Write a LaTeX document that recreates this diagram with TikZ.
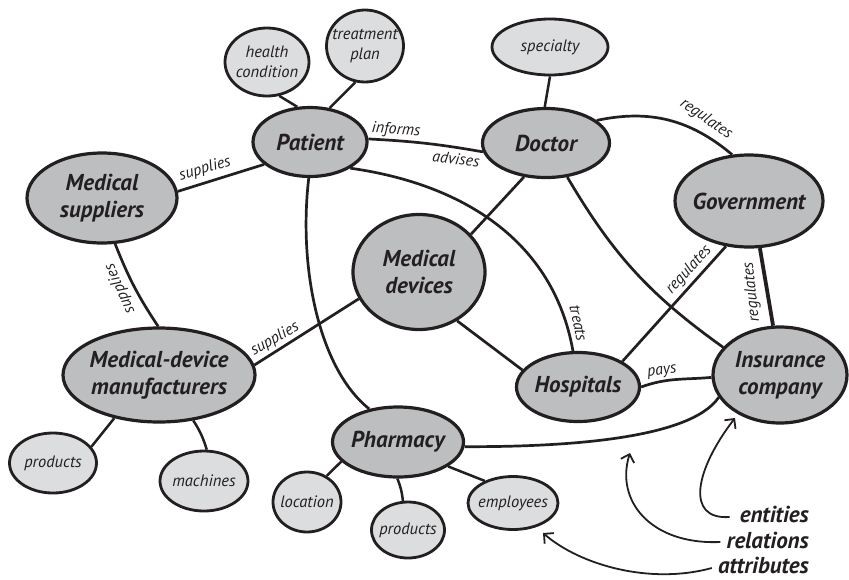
\documentclass[tikz,border=0pt]{standalone}
\usepackage{fontspec}
\setmainfont{PT Sans}
\usetikzlibrary{shapes.geometric,arrows.meta,backgrounds}
\definecolor{entfill}{HTML}{BCBEC0}
\definecolor{attfill}{HTML}{DCDDDE}
\definecolor{ink}{HTML}{231F20}
\begin{document}
\begin{tikzpicture}[x=1pt,y=1pt,
  ent/.style={ellipse, draw=ink, line width=3.2pt, fill=entfill, inner sep=0pt},
  att/.style={ellipse, draw=ink, line width=2.8pt, fill=attfill, inner sep=0pt},
  etxt/.style={text=ink, font=\fontsize{23}{27}\selectfont\bfseries\itshape, align=center, inner sep=0pt},
  atxt/.style={text=ink, font=\fontsize{16.5}{20}\selectfont\itshape, align=center, inner sep=0pt},
  rtxt/.style={text=ink, font=\fontsize{16}{18}\selectfont\itshape, inner sep=1pt},
  ltxt/.style={text=ink, font=\fontsize{23}{27}\selectfont\bfseries\itshape, inner sep=0pt, anchor=east},
  con/.style={draw=ink, line width=2.7pt},
  acon/.style={draw=ink, line width=2.5pt},
  legarrow/.style={draw=ink, line width=1.8pt, -{Straight Barb[length=7pt,width=14pt]}},
]
\useasboundingbox (0,0) rectangle (849,-579);

% entities
\node[ent, minimum width=114pt, minimum height=69pt] (pat) at (310,-142) {};
\node[etxt] (patT) at (pat) {Patient};
\node[ent, minimum width=127pt, minimum height=69pt] (doc) at (546,-143) {};
\node[etxt] (docT) at (doc) {Doctor};
\node[ent, minimum width=150pt, minimum height=90pt] (medsup) at (102,-198) {};
\node[etxt] (medsupT) at (medsup) {Medical\\suppliers};
\node[ent, minimum width=148pt, minimum height=92pt] (gov) at (749,-201) {};
\node[etxt] (govT) at (gov) {Government};
\node[ent, minimum width=132pt, minimum height=115pt] (md) at (419,-272) {};
\node[etxt] (mdT) at (md) {Medical\\devices};
\node[ent, minimum width=192pt, minimum height=94pt] (manuf) at (159,-375) {};
\node[etxt] (manufT) at (manuf) {Medical-device\\manufacturers};
\node[ent, minimum width=123pt, minimum height=69pt] (hosp) at (578,-387) {};
\node[etxt] (hospT) at (hosp) {Hospitals};
\node[ent, minimum width=134pt, minimum height=96pt] (ins) at (780,-375) {};
\node[etxt] (insT) at (ins) {Insurance\\company};
\node[ent, minimum width=131pt, minimum height=70pt] (pharm) at (398,-442) {};
\node[etxt] (pharmT) at (pharm) {Pharmacy};

% attributes
\node[att, minimum width=84pt, minimum height=68pt] (health) at (267,-62) {};
\node[atxt] (healthT) at (health) {health\\condition};
\node[att, minimum width=77pt, minimum height=72pt] (treat) at (365,-46) {};
\node[atxt] (treatT) at (treat) {treatment\\plan};
\node[att, minimum width=116pt, minimum height=56pt] (spec) at (550,-47) {};
\node[atxt] (specT) at (spec) {specialty};
\node[att, minimum width=87pt, minimum height=60pt] (prodA) at (53,-463) {};
\node[atxt] (prodAT) at (prodA) {products};
\node[att, minimum width=88pt, minimum height=60pt] (mach) at (204,-481) {};
\node[atxt] (machT) at (mach) {machines};
\node[att, minimum width=68pt, minimum height=60pt] (loc) at (307,-502) {};
\node[atxt] (locT) at (loc) {location};
\node[att, minimum width=73pt, minimum height=56pt] (prodB) at (408,-530) {};
\node[atxt] (prodBT) at (prodB) {products};
\node[att, minimum width=90pt, minimum height=53pt] (empl) at (513,-503) {};
\node[atxt] (emplT) at (empl) {employees};

% relation labels
\node[rtxt, rotate=-4] (lInf) at (396,-130) {informs};
\node[rtxt, rotate=-7] (lAdv) at (456,-159) {advises};
\node[rtxt, rotate=16] (lSup1) at (205,-169) {supplies};
\node[rtxt, rotate=114] (lSup2) at (120,-289) {supplies};
\node[rtxt, rotate=30] (lSup3) at (275,-339) {supplies};
\node[rtxt, rotate=-78] (lTreat) at (578,-323) {treats};
\node[rtxt, rotate=-35] (lReg1) at (706,-119) {regulates};
\node[rtxt, rotate=48] (lReg2) at (689,-270) {regulates};
\node[rtxt, rotate=96] (lReg3) at (752,-292) {regulates};
\node[rtxt, rotate=8] (lPays) at (662,-372) {pays};

% legend
\node[ltxt] (lent) at (809,-514) {entities};
\node[ltxt] (lrel) at (809,-540) {relations};
\node[ltxt] (latt) at (809,-565) {attributes};
\coordinate (tipE) at (735,-418);
\coordinate (tipR) at (630,-453);
\coordinate (tipA) at (543,-533);

\begin{scope}[on background layer]
  % attribute connectors
  \draw[acon] (health.-70) -- (pat.110);
  \draw[acon] (treat.-105) -- (pat.60);
  \draw[acon] (spec.-90) -- (doc.92);
  \draw[acon] (manuf.224) -- (prodA.23);
  \draw[acon] (manuf.-53) to[bend left=8] (mach.85);
  \draw[acon] (pharm.199) -- (loc.53);
  \draw[acon] (pharm.-91) to[bend left=8] (prodB.100);
  \draw[acon] (pharm.-26) -- (empl.142);
  % relation connectors
  \draw[con] (pat.3) to[out=-3,in=170] (doc.188);
  \draw[con] (medsup.5) -- (pat.206);
  \draw[con] (medsup.-74) to[bend right=6] (manuf.91);
  \draw[con] (manuf.6) -- (md.204);
  \draw[con] (md.36) -- (doc.237);
  \draw[con] (md.-52) -- (hosp.163);
  \draw[con] (pat.-33) to[out=-8,in=100] (hosp.98);
  \draw[con] (doc.-58) to[bend right=12] (ins.154);
  \draw[con, line width=3.8pt] (gov.-77) -- (ins.98);
  \draw[con] (gov.-117) -- (hosp.30);
  \draw[con] (doc.24) to[out=12,in=140] (gov.110);
  \draw[con] (hosp.0) to[out=20,in=185] (ins.182);
  \draw[con] (pharm.-4) .. controls (560,-447) and (690,-440) .. (ins.200);
  \draw[con] (pat.-92) .. controls (298,-270) and (320,-370) .. (pharm.131);
\end{scope}

% legend arrows
\draw[legarrow] ([xshift=-10pt,yshift=-3pt]lent.west) .. controls (685,-520) and (695,-470) .. (tipE);
\draw[legarrow] ([xshift=-6pt,yshift=-2pt]lrel.west) .. controls (650,-545) and (615,-500) .. (tipR);
\draw[legarrow] ([xshift=-6pt,yshift=-3pt]latt.west) .. controls (650,-585) and (580,-565) .. (tipA);
\end{tikzpicture}
\end{document}
